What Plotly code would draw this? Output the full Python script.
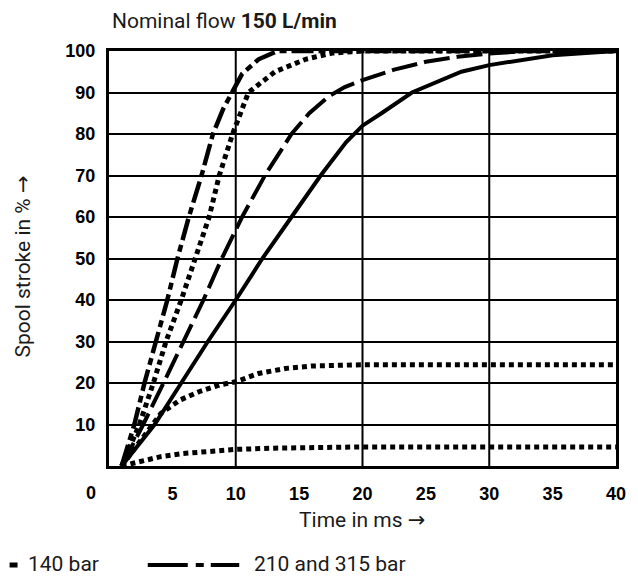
import plotly.graph_objects as go

# ---- data ----
t_dashdot = [1, 2.0, 2.8, 3.7, 4.6, 5.4, 6.3, 7.3, 8.2, 9.0, 9.7, 10.5, 11.8, 13.3, 40]
s_dashdot = [0, 10, 20, 30, 40, 50, 60, 70, 80, 86, 90, 94.5, 98, 100, 100]

t_dot_hi = [1, 2.4, 3.5, 4.5, 5.7, 6.8, 7.9, 8.7, 9.75, 11, 13.1, 15.5, 17.6, 20, 40]
s_dot_hi = [0, 10, 20, 30, 40, 50, 60, 70, 80, 90, 95, 98, 99.5, 100, 100]

t_dash = [1, 2.7, 4.3, 5.9, 7.45, 8.9, 10.5, 12.3, 14.4, 15.8, 17.3, 18.6, 20, 22.5, 25, 27.5, 30, 33, 40]
s_dash = [0, 10, 20, 30, 40, 50, 60, 70, 80, 85, 89, 91.3, 93, 95.5, 97.4, 98.6, 99.4, 100, 100]

t_solid = [1, 3.6, 5.7, 7.8, 10.0, 12.1, 14.4, 16.7, 18.7, 20, 21.5, 23.9, 27.8, 30, 35, 40]
s_solid = [0, 10, 20, 30, 40, 50, 60, 70, 78, 82, 85, 90, 95, 96.6, 99, 100]

t_dot_mid = [1, 2.7, 4.1, 5.6, 7.1, 8.7, 10.0, 11.8, 13.9, 16, 17.6, 20, 40]
s_dot_mid = [0, 7.1, 12.7, 15.9, 17.9, 19.5, 20.3, 22.3, 23.5, 24.1, 24.3, 24.4, 24.4]

t_dot_low = [1, 2.7, 4, 5.8, 8, 10, 13, 16, 20, 40]
s_dot_low = [0, 1.4, 2.2, 3.0, 3.6, 4.0, 4.3, 4.5, 4.6, 4.6]

x_ticks = [5, 10, 15, 20, 25, 30, 35, 40]
y_ticks = [10, 20, 30, 40, 50, 60, 70, 80, 90, 100]
x_grid = [10, 20, 30]

legend_labels = ["140 bar", "210 and 315 bar"]

# ---- styles ----
DOT = "5px,4px"
DASHDOT = "22px,5px,7px,5px"
LONGDASH = "26px,7px"

fig = go.Figure()
series = [
    (t_dot_low, s_dot_low, DOT, 5, "140 bar"),
    (t_dot_mid, s_dot_mid, DOT, 5, "140 bar"),
    (t_solid, s_solid, "solid", 4, "solid"),
    (t_dash, s_dash, LONGDASH, 4, "dash"),
    (t_dot_hi, s_dot_hi, DOT, 5, "140 bar"),
    (t_dashdot, s_dashdot, DASHDOT, 4.5, "210 and 315 bar"),
]
for tx, sy, dash, w, name in series:
    fig.add_trace(go.Scatter(x=tx, y=sy, mode="lines", name=name, showlegend=False,
                             line=dict(color="black", width=w, dash=dash)))

FONT = "Roboto, sans-serif"
tickfont = dict(family="Liberation Sans, Arial, sans-serif", size=18, color="black", weight="bold")
textfont = dict(family=FONT, size=21, color="#1a1a1a")
ARROW = "<span style='font-family:DejaVu Sans'>\u2192</span>"

fig.update_xaxes(range=[0, 40], tickvals=x_ticks, ticktext=[str(v) for v in x_ticks],
                 tickfont=tickfont, ticks="", showgrid=False,
                 showline=True, linecolor="black", linewidth=3, mirror=True,
                 zeroline=False, ticklabelstandoff=9)
fig.update_yaxes(range=[0, 100], tickvals=y_ticks, ticktext=[str(v) for v in y_ticks],
                 tickfont=tickfont, ticks="", showgrid=True, gridcolor="black", gridwidth=2,
                 showline=True, linecolor="black", linewidth=3, mirror=True, zeroline=False,
                 ticklabelstandoff=7)

for gx in x_grid:
    fig.add_shape(type="line", xref="x", yref="paper", x0=gx, x1=gx, y0=0, y1=1,
                  line=dict(color="black", width=2), layer="below")

# page-pixel -> paper helpers (plot area spans 109..619 px horizontally, 51..466 px vertically)
def px_x(p):
    return (p - 109) / 510.0

def px_y(p):
    return 1 - (p - 51) / 415.0

annotations = [
    dict(text="Nominal flow <b>150 L/min</b>", xref="paper", yref="paper", x=px_x(110), y=px_y(21.5),
         xanchor="left", yanchor="middle", showarrow=False, font=textfont),
    dict(text="Spool stroke in % " + ARROW, xref="paper", yref="paper", x=px_x(22), y=px_y(267),
         xanchor="center", yanchor="middle", textangle=-90, showarrow=False, font=textfont),
    dict(text="Time in ms " + ARROW, xref="paper", yref="paper", x=px_x(363), y=px_y(520),
         xanchor="center", yanchor="middle", showarrow=False, font=textfont),
    dict(text="0", xref="paper", yref="paper", x=px_x(90.5), y=px_y(493), xanchor="center",
         yanchor="middle", showarrow=False, font=tickfont),
    dict(text=legend_labels[0], xref="paper", yref="paper", x=px_x(26), y=px_y(564),
         xanchor="left", yanchor="middle", showarrow=False, font=textfont),
    dict(text=legend_labels[1], xref="paper", yref="paper", x=px_x(253), y=px_y(564),
         xanchor="left", yanchor="middle", showarrow=False, font=textfont),
]

# legend samples
fig.add_shape(type="line", xref="paper", yref="paper", x0=px_x(9), x1=px_x(17),
              y0=px_y(565), y1=px_y(565), line=dict(color="black", width=5, dash="solid"))
fig.add_shape(type="line", xref="paper", yref="paper", x0=px_x(148), x1=px_x(240),
              y0=px_y(565), y1=px_y(565), line=dict(color="black", width=4, dash="40px,8px,8px,7px"))

# the page body adds an 8 px margin, so the figure is 8 px smaller on each side
fig.update_layout(width=630, height=575, margin=dict(l=101, r=19, t=43, b=117),
                  plot_bgcolor="white", paper_bgcolor="white", annotations=annotations,
                  showlegend=False)

fig.write_html("out.html")
